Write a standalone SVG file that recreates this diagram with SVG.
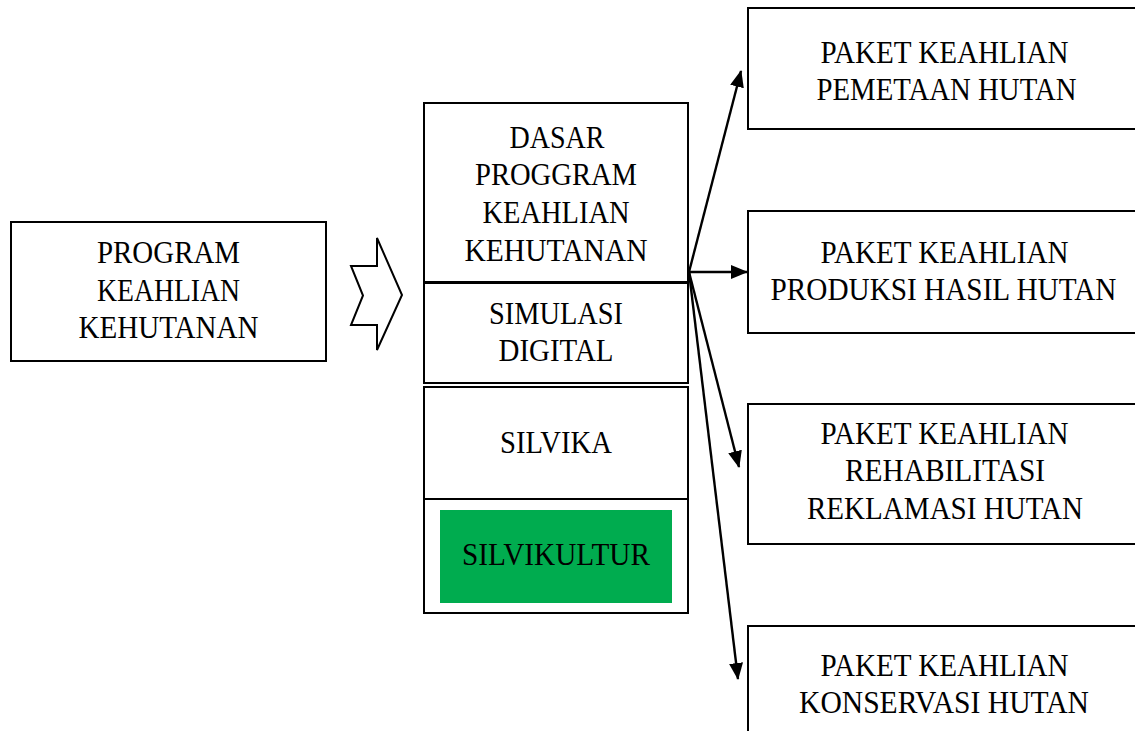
<svg xmlns="http://www.w3.org/2000/svg" width="1135" height="731" viewBox="0 0 1135 731">
  <style>
    .box { fill: #ffffff; stroke: #000000; stroke-width: 2; }
    .lbl { font-family: "Liberation Serif", "Times New Roman", serif; font-size: 32px; fill: #000000; text-anchor: middle; }
    .edge { stroke: #000000; stroke-width: 2.4; fill: none; marker-end: url(#head); }
  </style>
  <defs>
    <marker id="head" viewBox="0 0 17 14" refX="16" refY="7" markerWidth="17" markerHeight="14" markerUnits="userSpaceOnUse" orient="auto">
      <path d="M0,0 L17,7 L0,14 Z" fill="#000000"/>
    </marker>
  </defs>

  <rect width="1135" height="731" fill="#ffffff"/>

  <!-- source program -->
  <g id="program">
    <rect class="box" x="11" y="222" width="315" height="139"/>
    <text class="lbl" x="168.5" y="263" textLength="143" lengthAdjust="spacingAndGlyphs">PROGRAM</text>
    <text class="lbl" x="168.5" y="301" textLength="143" lengthAdjust="spacingAndGlyphs">KEAHLIAN</text>
    <text class="lbl" x="168.5" y="338" textLength="180" lengthAdjust="spacingAndGlyphs">KEHUTANAN</text>
  </g>

  <!-- chevron -->
  <g id="chevron">
    <polygon points="377,238 377,266 351,266 363,295.5 351,325 377,325 377,350 402,295" fill="#ffffff" stroke="#000000" stroke-width="2" stroke-linejoin="miter"/>
  </g>

  <!-- stacked subjects -->
  <g id="dasar">
    <rect class="box" x="424" y="103" width="264" height="179"/>
    <text class="lbl" x="557" y="148" textLength="95" lengthAdjust="spacingAndGlyphs">DASAR</text>
    <text class="lbl" x="556" y="185" textLength="162" lengthAdjust="spacingAndGlyphs">PROGGRAM</text>
    <text class="lbl" x="556" y="223" textLength="147" lengthAdjust="spacingAndGlyphs">KEAHLIAN</text>
    <text class="lbl" x="556" y="261" textLength="183" lengthAdjust="spacingAndGlyphs">KEHUTANAN</text>
  </g>
  <g id="simulasi">
    <rect class="box" x="424" y="283" width="264" height="100"/>
    <text class="lbl" x="556" y="324" textLength="134" lengthAdjust="spacingAndGlyphs">SIMULASI</text>
    <text class="lbl" x="556" y="361" textLength="115" lengthAdjust="spacingAndGlyphs">DIGITAL</text>
  </g>
  <g id="silvika">
    <rect class="box" x="424" y="387" width="264" height="112"/>
    <text class="lbl" x="556" y="453" textLength="112" lengthAdjust="spacingAndGlyphs">SILVIKA</text>
  </g>
  <g id="silvikultur">
    <rect class="box" x="424" y="499" width="264" height="114"/>
    <rect x="440" y="510" width="232" height="93" fill="#00ac4f"/>
    <text class="lbl" x="556" y="565" textLength="188" lengthAdjust="spacingAndGlyphs">SILVIKULTUR</text>
  </g>

  <!-- skill packages -->
  <g id="pemetaan">
    <rect class="box" x="748" y="8" width="400" height="121"/>
    <text class="lbl" x="944.5" y="63" textLength="248" lengthAdjust="spacingAndGlyphs">PAKET KEAHLIAN</text>
    <text class="lbl" x="946.5" y="100" textLength="260" lengthAdjust="spacingAndGlyphs">PEMETAAN HUTAN</text>
  </g>
  <g id="produksi">
    <rect class="box" x="748" y="211" width="400" height="122"/>
    <text class="lbl" x="944.5" y="263" textLength="248" lengthAdjust="spacingAndGlyphs">PAKET KEAHLIAN</text>
    <text class="lbl" x="943.5" y="300" textLength="346" lengthAdjust="spacingAndGlyphs">PRODUKSI HASIL HUTAN</text>
  </g>
  <g id="rehabilitasi">
    <rect class="box" x="748" y="404" width="400" height="140"/>
    <text class="lbl" x="944.5" y="444" textLength="248" lengthAdjust="spacingAndGlyphs">PAKET KEAHLIAN</text>
    <text class="lbl" x="945" y="481" textLength="200" lengthAdjust="spacingAndGlyphs">REHABILITASI</text>
    <text class="lbl" x="945" y="519" textLength="276" lengthAdjust="spacingAndGlyphs">REKLAMASI HUTAN</text>
  </g>
  <g id="konservasi">
    <rect class="box" x="748" y="626" width="400" height="140"/>
    <text class="lbl" x="944.5" y="676" textLength="248" lengthAdjust="spacingAndGlyphs">PAKET KEAHLIAN</text>
    <text class="lbl" x="944" y="713" textLength="290" lengthAdjust="spacingAndGlyphs">KONSERVASI HUTAN</text>
  </g>

  <!-- connectors -->
  <g id="connectors">
    <line class="edge" x1="689" y1="272" x2="741" y2="71"/>
    <line class="edge" x1="689" y1="272" x2="747" y2="272"/>
    <line class="edge" x1="689" y1="272" x2="739" y2="467"/>
    <line class="edge" x1="689" y1="272" x2="738" y2="679"/>
  </g>
</svg>
